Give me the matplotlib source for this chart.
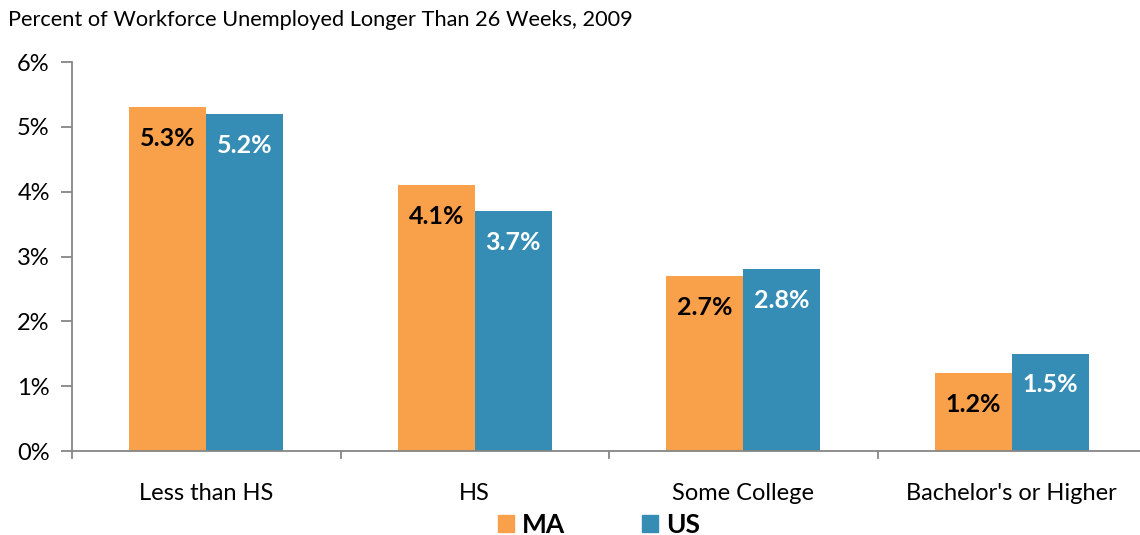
import matplotlib.pyplot as plt
from matplotlib.patches import Patch
import numpy as np

plt.rcParams['font.family'] = ['Lato', 'DejaVu Sans']

categories = ["Less than HS", "HS", "Some College", "Bachelor's or Higher"]
ma_values = [5.3, 4.1, 2.7, 1.2]
us_values = [5.2, 3.7, 2.8, 1.5]
y_ticks = [0, 1, 2, 3, 4, 5, 6]

ma_color = '#F9A04A'
us_color = '#358CB4'
axis_color = '#868686'

W, H = 1140, 535
fig = plt.figure(figsize=(W / 100, H / 100), dpi=100)
ax = fig.add_axes([72 / W, (H - 451) / H, (1146 - 72) / W, (451 - 62) / H])

x = np.arange(len(categories))
width = 0.287
ma_bars = ax.bar(x - width / 2, ma_values, width, color=ma_color, label='MA')
us_bars = ax.bar(x + width / 2, us_values, width, color=us_color, label='US')

# value labels inside bar tops
for bars, vals, col in [(ma_bars, ma_values, 'black'), (us_bars, us_values, 'white')]:
    for b, v in zip(bars, vals):
        ax.annotate(f"{v:.1f}%", (b.get_x() + b.get_width() / 2, v),
                    xytext=(0, -22.5), textcoords='offset points',
                    ha='center', va='center', fontsize=18, fontweight='bold', color=col)

ax.set_xlim(-0.5, len(categories) - 0.5)
ax.set_ylim(0, 6)
ax.set_yticks(y_ticks)
ax.set_yticklabels([f"{t}%" for t in y_ticks], fontsize=17)
ax.set_xticks(x)
ax.set_xticklabels(categories, fontsize=17)
ax.tick_params(axis='x', length=0, pad=23)
ax.tick_params(axis='y', length=8, width=1.3, color=axis_color, pad=8)

# category separators on x axis
for sep in np.arange(-0.5, len(categories), 1.0):
    ax.plot([sep, sep], [0, -0.11], color=axis_color, lw=1.3, clip_on=False)

for s in ['top', 'right']:
    ax.spines[s].set_visible(False)
for s in ['left', 'bottom']:
    ax.spines[s].set_color(axis_color)
    ax.spines[s].set_linewidth(1.3)

fig.text(8 / W, 1 - 20 / H, "Percent of Workforce Unemployed Longer Than 26 Weeks, 2009",
         fontsize=15.7, va='center', ha='left')

handles = [Patch(color=ma_color), Patch(color=us_color)]
fig.legend(handles, ['MA', 'US'], loc='center', bbox_to_anchor=(599 / W, 1 - 525 / H),
           ncol=2, frameon=False, handlelength=0.6, handleheight=0.6, handletextpad=0.3,
           columnspacing=2.9, prop={'size': 19, 'weight': 'bold'})

fig.savefig('out.png', dpi=100)
